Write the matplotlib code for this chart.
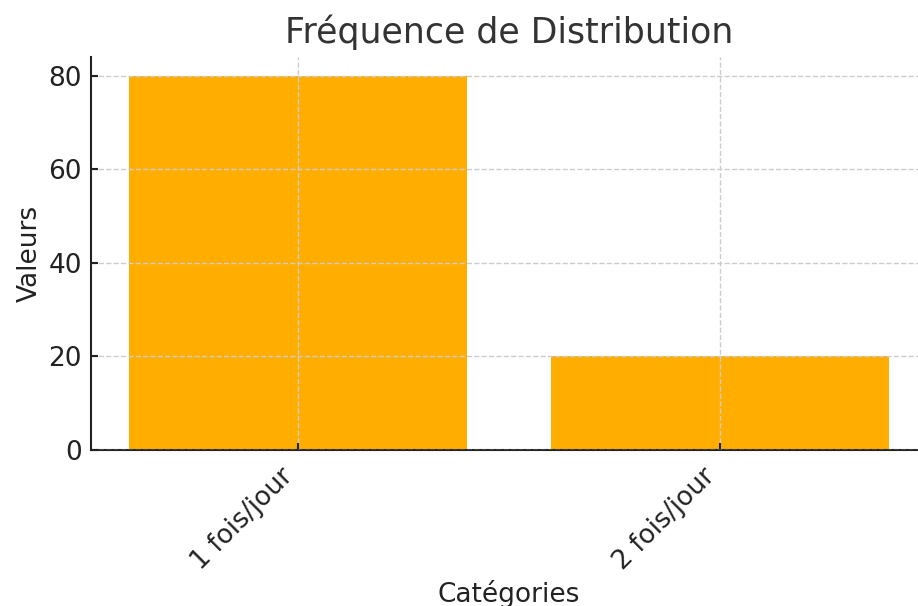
import matplotlib
matplotlib.use("Agg")
import matplotlib.pyplot as plt

categories = ["1 fois/jour", "2 fois/jour"]
values = [80, 20]

plt.rcParams['font.family'] = ['DejaVu Sans']
fig = plt.figure(figsize=(9.18, 6.06), dpi=100)
ax = fig.add_axes([0.0991, 0.2574, 0.9107, 0.6485])
ax.bar(categories, values, color="#FFAE00", width=0.8, zorder=1)
ax.set_xlim(-0.49, 1.49)
ax.set_ylim(0, 84)
ax.set_yticks([0, 20, 40, 60, 80])
ax.grid(True, linestyle="--", color="#cccccc", linewidth=1, zorder=2)
ax.set_axisbelow(False)
for s in ["top", "right"]:
    ax.spines[s].set_visible(False)
for s in ["left", "bottom"]:
    ax.spines[s].set_color("#222222")
    ax.spines[s].set_linewidth(1.5)
ax.tick_params(axis="both", direction="in", labelsize=19, colors="#222222", width=1.5, length=5)
ax.tick_params(axis="x", pad=9.5)
ax.tick_params(axis="y", pad=6.5)
plt.setp(ax.get_xticklabels(), rotation=45, ha="right", rotation_mode="default")
ax.set_xlabel("Catégories", fontsize=19, color="#222222")
ax.set_ylabel("Valeurs", fontsize=19, color="#222222")
ax.set_title("Fréquence de Distribution", fontsize=25, color="#333333", pad=10)
fig.savefig("out.png", dpi=100)
